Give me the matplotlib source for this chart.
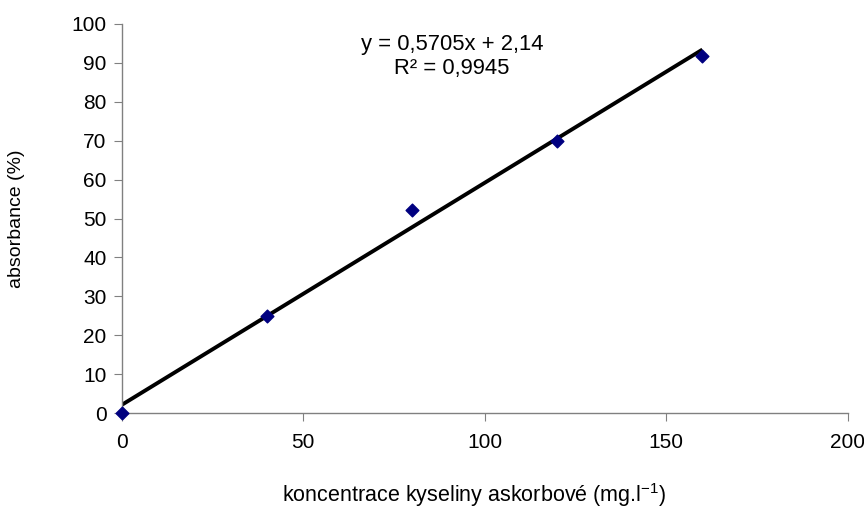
import matplotlib
matplotlib.use("Agg")
import matplotlib.pyplot as plt
import numpy as np

plt.rcParams['font.family'] = ['Liberation Sans', 'DejaVu Sans']
plt.rcParams['mathtext.default'] = 'regular'

x_vals = [0, 40, 80, 120, 160]
y_vals = [0, 25.0, 52.3, 69.9, 91.7]
slope = 0.5705
intercept = 2.14
r2_text = "0,9945"
x_ticks = [0, 50, 100, 150, 200]
y_ticks = [0, 10, 20, 30, 40, 50, 60, 70, 80, 90, 100]

fig = plt.figure(figsize=(8.64, 5.21), dpi=100)
ax = fig.add_axes([0.141, 0.207, 0.84, 0.747])

xl = np.array([0, 160])
ax.plot(xl, slope * xl + intercept, color='black', lw=2.8, zorder=2, solid_capstyle='butt')
ax.scatter(x_vals, y_vals, marker='D', s=42, color='#000080', zorder=3, clip_on=False)

ax.set_xlim(0, 200)
ax.set_ylim(0, 100)
ax.set_xticks(x_ticks)
ax.set_yticks(y_ticks)
for s in ['top', 'right']:
    ax.spines[s].set_visible(False)
for s in ['left', 'bottom']:
    ax.spines[s].set_color('#808080')
    ax.spines[s].set_linewidth(1.0)
ax.tick_params(axis='both', direction='out', length=6, color='#808080', pad=4)
ax.tick_params(axis='y', labelsize=15, pad=5)
ax.tick_params(axis='x', labelsize=15, pad=8)

ax.set_xlabel('koncentrace kyseliny askorbové (mg.l$^{-1}$)', fontsize=15.5)
ax.xaxis.set_label_coords(0.486, -0.175)
ax.set_ylabel('absorbance (%)', fontsize=14)
ax.yaxis.set_label_coords(-0.133, 0.5)

ax.text(0.455, 0.975, "y = 0,5705x + 2,14\nR² = " + r2_text, transform=ax.transAxes,
        ha='center', va='top', fontsize=15.8, linespacing=1.2)

fig.savefig('out.png', dpi=100)
